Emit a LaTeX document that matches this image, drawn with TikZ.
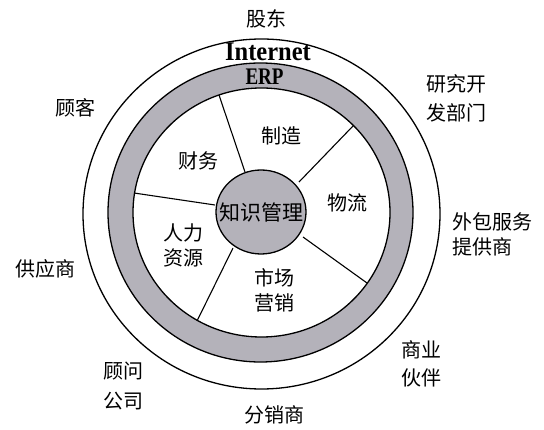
\documentclass[tikz,border=0pt]{standalone}
\usepackage{fontspec}
\usetikzlibrary{shapes.geometric}
\setmainfont{Liberation Serif}
\newfontfamily\cjk{Noto Sans CJK SC}
\definecolor{ringgray}{RGB}{180,178,186}
\begin{document}
\begin{tikzpicture}[x=1pt,y=-1pt,
  edge/.style={line width=1.3pt, black},
  lbl/.style={font=\cjk\fontsize{20}{25}\selectfont, inner sep=0pt, align=center},
  lbll/.style={font=\cjk\fontsize{20}{25}\selectfont, inner sep=0pt, align=left},
  sep/.style={line width=1.1pt, black}]
\useasboundingbox (0,0) rectangle (544,430);
\fill[white] (0,0) rectangle (544,430);
% outer circle
\draw[edge] (261.5,214) ellipse [x radius=178.5pt, y radius=175pt];
% gray ring
\fill[ringgray, even odd rule] (260.5,212.5) ellipse [x radius=152.5pt, y radius=149.5pt]
  (261.5,212.5) ellipse [x radius=128.5pt, y radius=124.5pt];
\draw[edge] (260.5,212.5) ellipse [x radius=152.5pt, y radius=149.5pt];
\draw[edge] (261.5,212.5) ellipse [x radius=128.5pt, y radius=124.5pt];
% section separators
\coordinate (s1a) at (245,172); \coordinate (s1b) at (219,95);
\coordinate (s2a) at (299,182); \coordinate (s2b) at (353,126);
\coordinate (s3a) at (303,237); \coordinate (s3b) at (367,283);
\coordinate (s4a) at (233,248); \coordinate (s4b) at (197,321);
\coordinate (s5a) at (215,205); \coordinate (s5b) at (134,193);
\draw[sep] (s1a) -- (s1b);
\draw[sep] (s2a) -- (s2b);
\draw[sep] (s3a) -- (s3b);
\draw[sep] (s4a) -- (s4b);
\draw[sep] (s5a) -- (s5b);
% centre
\node[ellipse, draw, line width=1.3pt, fill=ringgray, minimum width=90pt, minimum height=84pt, inner sep=0pt] (km) at (261,212) {};
\node[lbl, font=\cjk\fontsize{21}{25}\selectfont] (kmt) at (261,212) {知识管理};
% ring texts
\node[inner sep=0pt, font=\bfseries\fontsize{24}{24}\selectfont] (inet) at (268,52) {\scalebox{1.02}[1.12]{Internet}};
\node[inner sep=0pt, font=\bfseries\fontsize{19}{19}\selectfont] (erp) at (264.5,77) {\scalebox{1}[1.25]{ERP}};
% inner section labels
\node[lbl] (mfg) at (281,136) {制造};
\node[lbl] (fin) at (198,161) {财务};
\node[lbl] (log) at (347,203) {物流};
\node[lbl] (hr) at (183,245) {人力\\资源};
\node[lbl] (mkt) at (274,290) {市场\\营销};
% outer labels
\node[lbl] (gd) at (266,19) {股东};
\node[lbl, font=\cjk\fontsize{20}{29}\selectfont] (rd) at (456,98) {研究开\\发部门};
\node[lbll, anchor=west] (out) at (452,234) {外包服务\\提供商};
\node[lbl, font=\cjk\fontsize{20}{28}\selectfont] (biz) at (421,364) {商业\\伙伴};
\node[lbl] (dist) at (274,415) {分销商};
\node[lbl, font=\cjk\fontsize{20}{30}\selectfont] (cons) at (123,386) {顾问\\公司};
\node[lbl] (sup) at (46,269) {供应商};
\node[lbl] (cust) at (76,108) {顾客};
\end{tikzpicture}
\end{document}
